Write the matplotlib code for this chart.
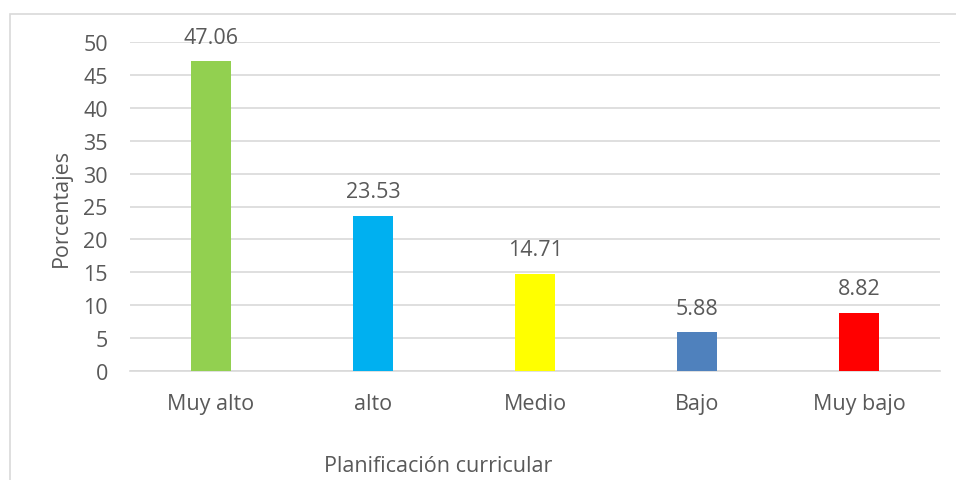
import matplotlib
matplotlib.use("Agg")
import matplotlib.pyplot as plt
from matplotlib.patches import Rectangle

categories = ["Muy alto", "alto", "Medio", "Bajo", "Muy bajo"]
percentages = [47.06, 23.53, 14.71, 5.88, 8.82]
bar_colors = ["#92d050", "#00b0f0", "#ffff00", "#4f81bd", "#ff0000"]
y_ticks = [0, 5, 10, 15, 20, 25, 30, 35, 40, 45, 50]

text_color = "#595959"
grid_color = "#d9d9d9"
fs = 15.5

plt.rcParams["font.family"] = ["Open Sans", "DejaVu Sans"]

fig = plt.figure(figsize=(9.56, 4.81), dpi=100)
ax = fig.add_axes([130 / 956, 1 - 372 / 481, 810 / 956, 329 / 481])

# chart frame, cut off on the right and bottom edges
fig.patches.append(Rectangle((9.5 / 956, -0.1), 1.2, 1 - 14.5 / 481 + 0.1,
                             transform=fig.transFigure, fill=False,
                             edgecolor=grid_color, linewidth=1.2))

x = range(len(categories))
bars = ax.bar(x, percentages, width=0.253, color=bar_colors, zorder=3)

for rect, val in zip(bars, percentages):
    ax.annotate(f"{val:.2f}", (rect.get_x() + rect.get_width() / 2, val),
                xytext=(0, 13.5), textcoords="offset points",
                ha="center", va="baseline", fontsize=fs, color=text_color)

ax.set_xlim(-0.5, len(categories) - 0.5)
ax.set_ylim(0, 50)
ax.set_yticks(y_ticks)
ax.set_xticks(list(x))
ax.set_xticklabels(categories)
ax.yaxis.grid(True, color=grid_color, linewidth=1.2, zorder=0)
ax.tick_params(axis="both", length=0, labelsize=fs, labelcolor=text_color)
ax.tick_params(axis="y", pad=16)
ax.tick_params(axis="x", pad=16)

for side in ["top", "right", "left"]:
    ax.spines[side].set_visible(False)
ax.spines["bottom"].set_color(grid_color)
ax.spines["bottom"].set_linewidth(1.2)

ax.set_ylabel("Porcentajes", fontsize=fs, color=text_color)
ax.yaxis.set_label_coords(-58 / 810, 0.5)
fig.text(438 / 956, 1 - 466 / 481, "Planificación curricular",
         ha="center", va="center", fontsize=fs, color=text_color)

fig.savefig("out.png", dpi=100, facecolor="white")
